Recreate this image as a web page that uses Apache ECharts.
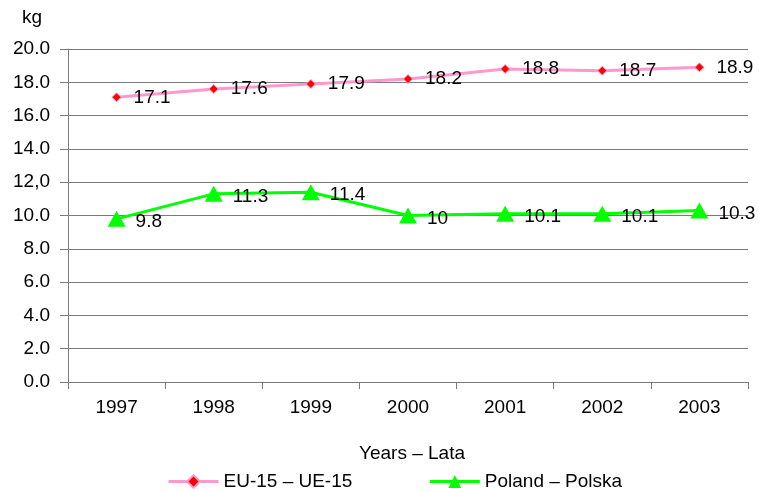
<!DOCTYPE html>
<html>
<head>
<meta charset="utf-8">
<script src="https://cdn.jsdelivr.net/npm/echarts@6/dist/echarts.min.js"></script>
<style>
  html, body { margin: 0; padding: 0; background: #fff; }
  #chart { width: 759px; height: 492px; }
</style>
</head>
<body>
<div id="chart"></div>
<script>
  var years = ['1997', '1998', '1999', '2000', '2001', '2002', '2003']
  var euValues = [17.1, 17.6, 17.9, 18.2, 18.8, 18.7, 18.9]
  var plValues = [9.8, 11.3, 11.4, 10, 10.1, 10.1, 10.3]
  var yTicks = { 0: '0.0', 2: '2.0', 4: '4.0', 6: '6.0', 8: '8.0', 10: '10.0', 12: '12,0', 14: '14.0', 16: '16.0', 18: '18.0', 20: '20.0' }

  var font = 'Liberation Sans, Arial, sans-serif'
  var lineGray = '#7a7a7a'
  var fs = 19

  var chart = echarts.init(document.getElementById('chart'))
  var option = {
    animation: false,
    textStyle: { fontFamily: font },
    grid: { left: 68, right: 11, top: 49, bottom: 110 },
    legend: {
      top: 467,
      left: 162,
      itemWidth: 50,
      itemHeight: 16,
      itemGap: 76,
      lineStyle: { width: 3 },
      textStyle: { fontSize: fs, color: '#000', fontFamily: font },
      data: ['EU-15 – UE-15', 'Poland – Polska']
    },
    xAxis: {
      type: 'category',
      data: years,
      boundaryGap: true,
      name: 'Years – Lata',
      nameLocation: 'middle',
      nameGap: 62,
      nameTextStyle: { fontSize: fs, color: '#000', padding: [0, 0, 0, 8] },
      axisLine: { lineStyle: { color: lineGray } },
      axisTick: { show: true, length: 7, lineStyle: { color: lineGray } },
      axisLabel: { fontSize: fs, color: '#000', margin: 16 }
    },
    yAxis: {
      type: 'value',
      min: 0,
      max: 20,
      interval: 2,
      name: 'kg',
      nameLocation: 'end',
      nameGap: 22,
      nameTextStyle: { fontSize: fs, color: '#000', align: 'right', padding: [0, 26, 0, 0] },
      axisLine: { show: true, lineStyle: { color: lineGray } },
      axisTick: { show: true, length: 8, lineStyle: { color: lineGray } },
      splitLine: { lineStyle: { color: lineGray } },
      axisLabel: {
        fontSize: fs,
        color: '#000',
        margin: 18,
        formatter: function (v) { return yTicks[v] }
      }
    },
    series: [
      {
        name: 'EU-15 – UE-15',
        type: 'line',
        data: euValues,
        symbol: 'diamond',
        symbolSize: 9,
        itemStyle: { color: '#ff0000', borderColor: '#ff99cc', borderWidth: 1 },
        lineStyle: { color: '#ff99cc', width: 3 },
        label: { show: true, position: 'right', distance: 12, fontSize: fs, color: '#000' }
      },
      {
        name: 'Poland – Polska',
        type: 'line',
        data: plValues,
        symbol: 'triangle',
        symbolSize: [18, 16],
        itemStyle: { color: '#00ff00' },
        lineStyle: { color: '#00ff00', width: 3 },
        label: { show: true, position: 'right', distance: 10, offset: [0, 3], fontSize: fs, color: '#000' }
      }
    ]
  }
  chart.setOption(option)
</script>
</body>
</html>
